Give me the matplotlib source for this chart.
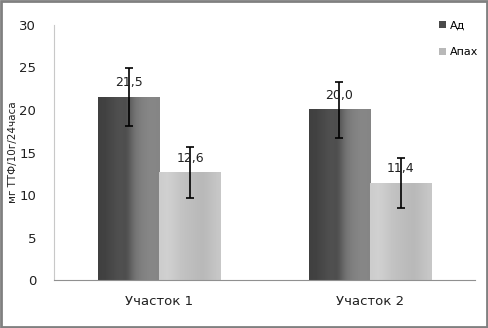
import numpy as np
import matplotlib.pyplot as plt
from matplotlib.patches import Rectangle

categories = ['Участок 1', 'Участок 2']
series = ['Ад', 'Апах']
values_ad = [21.5, 20.0]
values_apax = [12.6, 11.4]
err_ad = [3.4, 3.3]
err_apax = [3.0, 2.9]
labels_ad = ['21,5', '20,0']
labels_apax = ['12,6', '11,4']

fig = plt.figure(figsize=(4.88, 3.28), dpi=100)
ax = fig.add_axes([0.111, 0.146, 0.863, 0.778])

w = 0.29
x = np.arange(len(categories))

# horizontal gradients imitating the shaded bars
dark = np.array([0.25, 0.26, 0.28, 0.30, 0.32, 0.29, 0.40, 0.47, 0.50, 0.52, 0.53, 0.52])
light = np.array([0.80, 0.82, 0.80, 0.78, 0.76, 0.75, 0.74, 0.73, 0.72, 0.74, 0.76, 0.78])

def grad_bar(x0, h, g):
    img = np.tile(g, (2, 1))
    ax.imshow(img, cmap='gray', vmin=0, vmax=1, aspect='auto',
              extent=(x0, x0 + w, 0, h), interpolation='bicubic', zorder=2)

for i in range(len(categories)):
    grad_bar(x[i] - w, values_ad[i], dark)
    grad_bar(x[i], values_apax[i], light)

ax.errorbar(x - w / 2, values_ad, yerr=err_ad, fmt='none', ecolor='black',
            elinewidth=1.2, capsize=3, capthick=1.2, zorder=4)
ax.errorbar(x + w / 2, values_apax, yerr=err_apax, fmt='none', ecolor='black',
            elinewidth=1.2, capsize=3, capthick=1.2, zorder=4)

for i in range(len(categories)):
    ax.text(x[i] - w / 2, values_ad[i] + 1.7, labels_ad[i], ha='center', va='center',
            fontsize=9, color='#202020', zorder=5)
    ax.text(x[i] + w / 2, values_apax[i] + 1.7, labels_apax[i], ha='center', va='center',
            fontsize=9, color='#202020', zorder=5)

ax.set_xlim(-0.5, 1.5)
ax.set_ylim(0, 30)
ax.set_yticks(range(0, 31, 5))
ax.set_xticks(x)
ax.set_xticklabels(categories)
ax.tick_params(length=0, labelsize=9.5, colors='#202020')
ax.tick_params(axis='x', pad=11)
ax.tick_params(axis='y', pad=13)
for s in ['top', 'right']:
    ax.spines[s].set_visible(False)
ax.spines['left'].set_color('#c8c8c8')
ax.spines['bottom'].set_color('#909090')
ax.set_ylabel('мг ТТФ/10г/24часа', fontsize=7.5, color='#202020', labelpad=1)

handles = [Rectangle((0, 0), 1, 1, fc='#4a4a4a'), Rectangle((0, 0), 1, 1, fc='#b8b8b8')]
fig.legend(handles, series, loc='upper left', bbox_to_anchor=(0.888, 0.955),
           frameon=False, fontsize=8, handlelength=0.6, handleheight=0.6,
           handletextpad=0.4, labelspacing=1.5, borderpad=0)

fig.patches.append(Rectangle((0.002, 0.003), 0.995, 0.994, transform=fig.transFigure,
                             fill=False, ec='#808080', lw=2))

fig.savefig('out.png', dpi=100)
